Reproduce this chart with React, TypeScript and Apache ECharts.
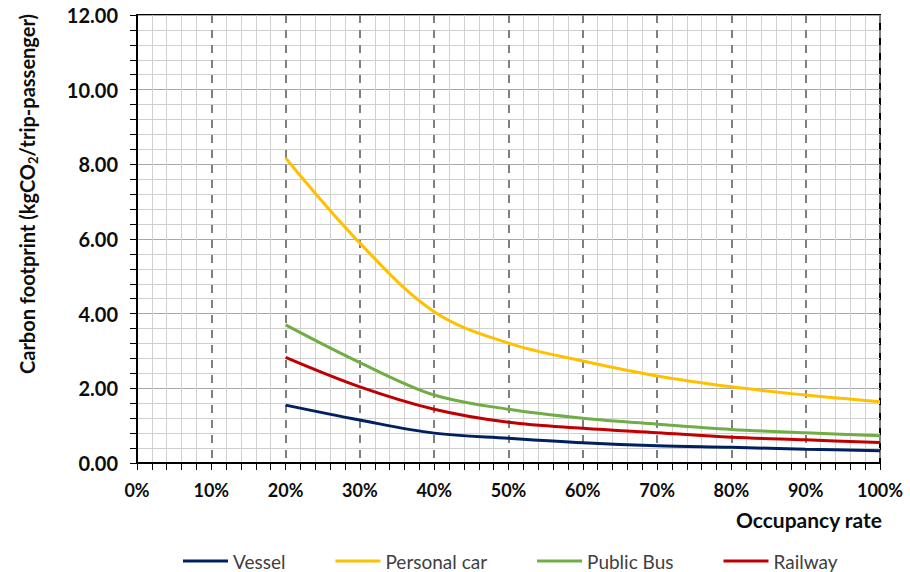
import React, { useEffect, useRef } from "react";
import * as echarts from "echarts";

const occupancy = [20, 30, 40, 50, 60, 70, 80, 90, 100];
const vessel = [1.55, 1.15, 0.8, 0.66, 0.54, 0.46, 0.42, 0.37, 0.33];
const personalCar = [8.17, 5.89, 4.05, 3.21, 2.73, 2.33, 2.04, 1.82, 1.64];
const publicBus = [3.7, 2.69, 1.82, 1.44, 1.2, 1.04, 0.9, 0.81, 0.73];
const railway = [2.83, 2.04, 1.44, 1.09, 0.93, 0.81, 0.69, 0.62, 0.55];

const seriesNames = ["Vessel", "Personal car", "Public Bus", "Railway"];
const seriesColors = ["#002060", "#FFC000", "#70AD47", "#C00000"];
const seriesValues = [vessel, personalCar, publicBus, railway];

const FONT = "Lato, 'Liberation Sans', sans-serif";

export default function App() {
  const ref = useRef<HTMLDivElement>(null);
  useEffect(() => {
    if (!ref.current) return;
    const chart = echarts.init(ref.current, null, { renderer: "svg" });
    chart.setOption({
      animation: false,
      textStyle: { fontFamily: FONT },
      grid: {
        left: 137,
        right: 30,
        top: 15,
        bottom: 109,
        show: true,
        borderColor: "#000",
        borderWidth: 2,
        backgroundColor: "transparent",
      },
      legend: {
        left: 183,
        top: 551,
        padding: 0,
        itemWidth: 45,
        itemHeight: 14,
        itemGap: 50,
        icon: "path://M0,6 L45,6 L45,9 L0,9 Z",
        textStyle: { fontFamily: FONT, fontSize: 19, lineHeight: 20, color: "#404040" },
        data: seriesNames.map((n, i) => ({ name: n, itemStyle: { color: seriesColors[i] } })),
      },
      xAxis: {
        type: "value",
        min: 0,
        max: 100,
        interval: 10,
        axisLine: { show: true, lineStyle: { color: "#000", width: 2 } },
        axisTick: { show: true, length: 7, lineStyle: { color: "#000", width: 1 } },
        minorTick: { show: true, splitNumber: 5, length: 7, lineStyle: { color: "#000", width: 1 } },
        axisLabel: {
          margin: 18,
          fontFamily: FONT,
          fontSize: 18,
          fontWeight: "bold",
          color: "#0d0d0d",
          formatter: (v: number) => `${v}%`,
        },
        splitLine: { show: true, lineStyle: { color: "#808080", width: 2, type: [8, 7] } },
        minorSplitLine: { show: true, lineStyle: { color: "#d0d0d0", width: 1 } },
        name: "Occupancy rate",
        nameLocation: "end",
        nameGap: 2,
        nameTextStyle: {
          fontFamily: FONT,
          fontSize: 21,
          fontWeight: "bold",
          color: "#0d0d0d",
          align: "right",
          verticalAlign: "top",
          padding: [46, 0, 0, 0],
        },
      },
      yAxis: {
        type: "value",
        min: 0,
        max: 12,
        interval: 2,
        axisLine: { show: true, lineStyle: { color: "#000", width: 2 } },
        axisTick: { show: true, length: 7, lineStyle: { color: "#000", width: 1 } },
        minorTick: { show: true, splitNumber: 5, length: 7, lineStyle: { color: "#000", width: 1 } },
        axisLabel: {
          margin: 19,
          fontFamily: FONT,
          fontSize: 20,
          fontWeight: "bold",
          color: "#0d0d0d",
          formatter: (v: number) => v.toFixed(2),
        },
        splitLine: { show: true, lineStyle: { color: "#a8a8a8", width: 1 } },
        minorSplitLine: { show: true, lineStyle: { color: "#d0d0d0", width: 1 } },
      },
      graphic: [
        {
          type: "text",
          x: 27,
          y: 194,
          rotation: Math.PI / 2,
          style: {
            text: "{b|Carbon footprint (kgCO}{s|2}{b|/trip-passenger)}",
            align: "center",
            verticalAlign: "middle",
            fill: "#0d0d0d",
            rich: {
              b: { fontFamily: FONT, fontSize: 20, fontWeight: "bold", fill: "#0d0d0d", lineHeight: 24 },
              s: { fontFamily: FONT, fontSize: 13, fontWeight: "bold", fill: "#0d0d0d", verticalAlign: "bottom", lineHeight: 24, padding: [8, 0, 0, 0] },
            },
          },
        },
      ],
      series: seriesNames.map((name, i) => ({
        name,
        type: "line",
        smooth: 0.35,
        symbol: "none",
        lineStyle: { color: seriesColors[i], width: 3 },
        itemStyle: { color: seriesColors[i] },
        data: occupancy.map((x, j) => [x, seriesValues[i][j]]),
        z: 5,
      })),
    });
    return () => chart.dispose();
  }, []);
  return (
    <div
      ref={ref}
      style={{ position: "fixed", left: 0, top: 0, width: 910, height: 572, background: "#fff" }}
    />
  );
}
